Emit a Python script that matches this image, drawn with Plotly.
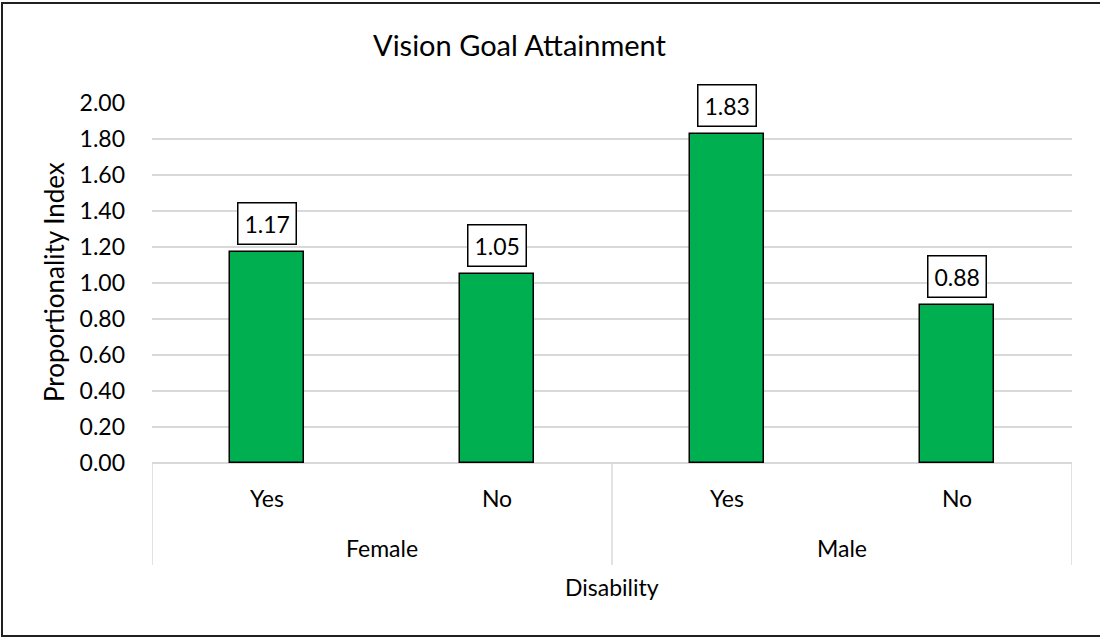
import plotly.graph_objects as go

groups = ["Female", "Male"]
disability = ["Yes", "No", "Yes", "No"]
values = [1.17, 1.05, 1.83, 0.88]
y_ticks = [0.0, 0.2, 0.4, 0.6, 0.8, 1.0, 1.2, 1.4, 1.6, 1.8, 2.0]

FONT = "Lato"
FS = 23
W, H = 1100, 638
L, R, T, B = 152, 28, 103, 175
PW, PH = W - L - R, H - T - B


def px_to_paper_x(px):
    return (px - L) / PW


def px_to_paper_y(py):
    return (H - B - py) / PH


xpos = list(range(len(values)))

fig = go.Figure()
fig.add_trace(go.Bar(
    x=xpos, y=values, width=0.32,
    marker=dict(color="#00B050", line=dict(color="#000000", width=1.5)),
    hoverinfo="skip", showlegend=False,
))

# data labels (boxed)
for xi, v in zip(xpos, values):
    fig.add_annotation(
        x=xi, y=v, xref="x", yref="y", text=f"{v:.2f}", showarrow=False,
        yanchor="bottom", yshift=7, font=dict(family=FONT, size=FS, color="#000"),
        bgcolor="#FFFFFF", bordercolor="#000000", borderwidth=1.5, borderpad=6,
    )

# group labels
for gi, g in enumerate(groups):
    fig.add_annotation(
        x=gi * 2 + 0.5, y=px_to_paper_y(548), xref="x", yref="paper", text=g,
        showarrow=False, yanchor="middle", font=dict(family=FONT, size=FS, color="#000"),
    )

# dividers for multi-level category axis
for xd in [-0.5, 1.5, 3.5]:
    fig.add_shape(type="line", xref="x", yref="paper", x0=xd, x1=xd,
                  y0=0, y1=px_to_paper_y(565), line=dict(color="#D9D9D9", width=1.5))

# axis title x
fig.add_annotation(x=px_to_paper_x(612), y=px_to_paper_y(587), xref="paper", yref="paper",
                   text="Disability", showarrow=False, yanchor="middle",
                   font=dict(family=FONT, size=FS, color="#000"))
# axis title y
fig.add_annotation(x=px_to_paper_x(54), y=px_to_paper_y(282), xref="paper", yref="paper",
                   text="Proportionality Index", showarrow=False, textangle=-90,
                   xanchor="center", yanchor="middle",
                   font=dict(family=FONT, size=26, color="#000"))
# chart title
fig.add_annotation(x=px_to_paper_x(520), y=px_to_paper_y(45), xref="paper", yref="paper",
                   text="Vision Goal Attainment", showarrow=False, yanchor="middle",
                   font=dict(family=FONT, size=29, color="#000"))

# outer chart border (right edge lies outside the picture)
fig.add_shape(type="path", xref="paper", yref="paper",
              path=(f"M {px_to_paper_x(1200)},{px_to_paper_y(3)} "
                    f"L {px_to_paper_x(2)},{px_to_paper_y(3)} "
                    f"L {px_to_paper_x(2)},{px_to_paper_y(636)} "
                    f"L {px_to_paper_x(1200)},{px_to_paper_y(636)}"),
              line=dict(color="#202020", width=2), layer="above")

fig.update_layout(
    width=W, height=H,
    margin=dict(l=L, r=R, t=T, b=B, autoexpand=False),
    paper_bgcolor="#FFFFFF", plot_bgcolor="#FFFFFF",
    bargap=0, showlegend=False,
    font=dict(family=FONT, size=FS, color="#000"),
    xaxis=dict(
        range=[-0.5, 3.5], tickmode="array", tickvals=xpos, ticktext=disability,
        showgrid=False, zeroline=False, showline=False, ticks="",
        ticklabelstandoff=20, tickfont=dict(family=FONT, size=FS, color="#000"),
        fixedrange=True,
    ),
    yaxis=dict(
        range=[0, 2.0], tickmode="array", tickvals=y_ticks,
        ticktext=[f"{t:.2f}" for t in y_ticks],
        showgrid=True, gridcolor="#D9D9D9", gridwidth=1.5,
        zeroline=True, zerolinecolor="#D9D9D9", zerolinewidth=1.5,
        showline=False, ticks="", ticklabelstandoff=26,
        tickfont=dict(family=FONT, size=FS, color="#000"), fixedrange=True,
    ),
)

fig.write_html("out.html", config={"displayModeBar": False},
               post_script="document.body.style.margin='0';document.body.style.overflow='hidden';")
